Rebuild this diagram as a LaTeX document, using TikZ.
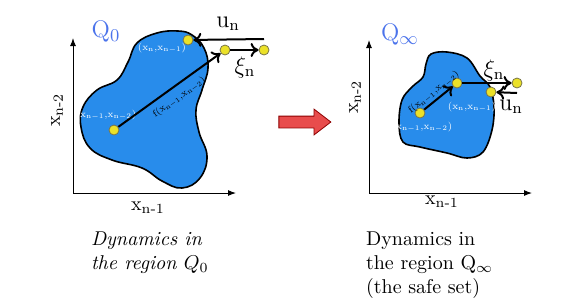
\documentclass[tikz,border=0pt]{standalone}
\usepackage{amsmath}
\usetikzlibrary{arrows.meta,positioning,shapes}
\definecolor{blobblue}{RGB}{40,140,235}
\definecolor{qblue}{RGB}{75,115,235}
\definecolor{dotyellow}{RGB}{235,225,40}
\definecolor{arrowred}{RGB}{232,76,76}
\newcommand{\xv}[1]{\mathrm{x}_{\mathrm{#1}}}
\tikzset{
  pt/.style={draw=black!60!yellow,circle,fill=dotyellow,inner sep=0pt,minimum size=5pt},
  ptlabel/.style={text=white,font=\scriptsize,scale=0.7,inner sep=1pt},
  flabel/.style={font=\scriptsize,scale=0.68,inner sep=1.5pt},
  biglabel/.style={font=\large,inner sep=1pt},
  qlabel/.style={text=qblue,font=\fontsize{13}{15}\selectfont,inner sep=1pt},
  axis/.style={-{Latex[length=4pt,width=3pt]},line width=0.5pt},
  move/.style={-{To[length=4pt,width=7pt]},line width=1pt},
  blob/.style={fill=blobblue,draw=black,line width=0.8pt},
}
\begin{document}
\begin{tikzpicture}[x=0.5pt,y=-0.5pt]
\useasboundingbox (0,0) rectangle (566,307);
% left panel
\coordinate (o1) at (73,193);
\coordinate (yt1) at (73,38);
\coordinate (xt1) at (236,193);
\draw[axis] (o1) -- (yt1);
\draw[axis] (o1) -- (xt1);
\node[rotate=90] (ylab1) at (57,110) {x\textsubscript{n-2}};
\node (xlab1) at (148,208) {x\textsubscript{n-1}};
\path[blob] plot[smooth cycle,tension=0.7] coordinates {(137,43) (157,33) (178,31) (192,35) (204,48) (208,68) (202,90) (196,110) (199,132) (207,156) (200,178) (182,188) (162,181) (142,168) (112,160) (90,148) (81,127) (83,107) (97,90) (117,80) (128,62)};
\node[qlabel] (q0) at (106,32) {$\mathrm{Q}_0$};
\node[pt] (a1) at (114,130) {};
\node[pt] (a2) at (188,40) {};
\node[pt] (a3) at (225,50) {};
\node[pt] (a4) at (264,50) {};
\coordinate (u1) at (264,39);
\node[ptlabel] (la1) at (106,115) {$(\xv{n-1},\!\xv{n-2})$};
\node[ptlabel] (la2) at (162,48) {$(\xv{n},\!\xv{n-1})$};
\draw[move] (a1) -- node[flabel,pos=0.53,below=2pt,sloped] {$\mathrm{f}(\xv{n-1},\!\xv{n-2})$} (a3);
\draw[move] (u1) -- (a2);
\draw[move] (a3) -- (a4);
\node[biglabel] (un1) at (228,24) {$\mathrm{u}_{\mathrm{n}}$};
\node[biglabel] (xi1) at (245,67) {$\xi_{\mathrm{n}}$};
% arrow between panels
\node[single arrow,fill=arrowred,draw=red!55!black,inner sep=2.75pt,single arrow head extend=3.5pt,single arrow tip angle=75,minimum height=26pt] (go) at (301,122) {};
% right panel
\coordinate (o2) at (369,193);
\coordinate (yt2) at (369,40);
\coordinate (xt2) at (532,193);
\draw[axis] (o2) -- (yt2);
\draw[axis] (o2) -- (xt2);
\node[rotate=90] (ylab2) at (355,97) {x\textsubscript{n-2}};
\node (xlab2) at (442,202) {x\textsubscript{n-1}};
\path[blob] plot[smooth cycle,tension=0.6] coordinates {(431,54) (447,52) (467,58) (480,76) (490,87) (494,107) (492,130) (483,152) (467,158) (447,153) (420,147) (403,142) (399,123) (402,100) (412,87) (423,77) (426,64)};
\node[qlabel] (qinf) at (400,35) {$\mathrm{Q}_\infty$};
\node[pt] (b1) at (420,113) {};
\node[pt] (b2) at (457,83) {};
\node[pt] (b3) at (517,83) {};
\node[pt] (b4) at (491,92) {};
\coordinate (u2) at (517,93);
\node[ptlabel] (lb1) at (422,127) {$(\xv{n-1},\!\xv{n-2})$};
\node[ptlabel] (lb2) at (472,107) {$(\xv{n},\!\xv{n-1})$};
\draw[move] (b1) -- node[flabel,midway,above,sloped] {$\mathrm{f}(\xv{n-1},\!\xv{n-2})$} (b2);
\draw[move] (b2) -- (b3);
\draw[move] (u2) -- (b4);
\node[biglabel] (xi2) at (494,70) {$\xi_{\mathrm{n}}$};
\node[biglabel] (un2) at (511,107) {$\mathrm{u}_{\mathrm{n}}$};
% captions
\node[anchor=west,align=left,font=\itshape] (cap1) at (84,253) {Dynamics in\\the region $Q_0$};
\node[anchor=west,align=left] (cap2) at (359,265) {Dynamics in\\the region Q$_\infty$\\(the safe set)};
\end{tikzpicture}
\end{document}
